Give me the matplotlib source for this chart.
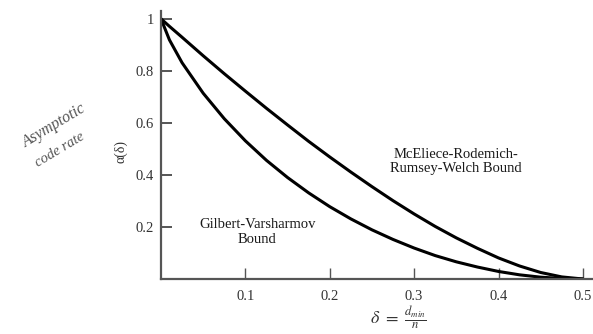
import matplotlib
matplotlib.use("Agg")
import matplotlib.pyplot as plt

# values
delta = [0, 0.01, 0.025, 0.05, 0.075, 0.1, 0.125, 0.15, 0.175, 0.2, 0.225, 0.25,
         0.275, 0.3, 0.325, 0.35, 0.375, 0.4, 0.425, 0.45, 0.475, 0.5]
gv_bound = [1.0, 0.919, 0.831, 0.714, 0.616, 0.531, 0.456, 0.390, 0.331, 0.278, 0.231, 0.189,
            0.152, 0.119, 0.090, 0.066, 0.046, 0.029, 0.016, 0.007, 0.002, 0.0]
mrrw_bound = [1.0, 0.971, 0.929, 0.858, 0.789, 0.722, 0.656, 0.592, 0.529, 0.469, 0.411, 0.355,
              0.301, 0.250, 0.202, 0.158, 0.118, 0.081, 0.050, 0.025, 0.008, 0.0]

x_ticks = [0.1, 0.2, 0.3, 0.4, 0.5]
y_ticks = [0.2, 0.4, 0.6, 0.8, 1.0]
y_tick_labels = ["0.2", "0.4", "0.6", "0.8", "1"]

plt.rcParams['font.family'] = ['Liberation Serif', 'DejaVu Serif']
plt.rcParams['mathtext.fontset'] = 'stix'

fig = plt.figure(figsize=(5.93, 3.34), dpi=100)
ax = fig.add_axes([161 / 593, 55 / 334, (593 - 161) / 593, 268 / 334])

ax.plot(delta, mrrw_bound, color="black", lw=2.2, solid_capstyle="round")
ax.plot(delta, gv_bound, color="black", lw=2.2, solid_capstyle="round")

ax.set_xlim(0, 0.512)
ax.set_ylim(0, 1.03)

for s in ["top", "right"]:
    ax.spines[s].set_visible(False)
for s in ["left", "bottom"]:
    ax.spines[s].set_color("#555555")
    ax.spines[s].set_linewidth(1.6)

ax.set_xticks(x_ticks)
ax.set_xticklabels([str(v) for v in x_ticks])
ax.set_yticks(y_ticks)
ax.set_yticklabels(y_tick_labels)
ax.tick_params(axis="y", direction="in", length=8, width=1.4, color="#555555",
               pad=5, labelsize=10.5, labelcolor="#333333")
ax.tick_params(axis="x", direction="in", length=8, width=1.0, color="#555555",
               pad=8, labelsize=10.5, labelcolor="#333333")

ax.text(0.35, 0.452, "McEliece-Rodemich-\nRumsey-Welch Bound", ha="center", va="center",
        fontsize=10.5, linespacing=1.15, color="#1a1a1a")
ax.text(0.114, 0.18, "Gilbert-Varsharmov\nBound", ha="center", va="center",
        fontsize=10.5, linespacing=1.15, color="#1a1a1a")

fig.text(121 / 593, 1 - 151 / 334, "α(δ)", rotation=90, ha="center", va="center",
         fontsize=10, color="#333333")

# handwritten note
fig.text(54 / 593, 1 - 126 / 334, "Asymptotic", rotation=31, ha="center", va="center",
         fontsize=11.5, style="italic", color="#555555")
fig.text(60 / 593, 1 - 150 / 334, "code rate", rotation=31, ha="center", va="center",
         fontsize=10.5, style="italic", color="#555555")

fig.text(398 / 593, 1 - 318 / 334, r"$\delta\ =\ \frac{d_{min}}{n}$", ha="center", va="center",
         fontsize=13, color="#333333")

fig.savefig("out.png", dpi=100)
